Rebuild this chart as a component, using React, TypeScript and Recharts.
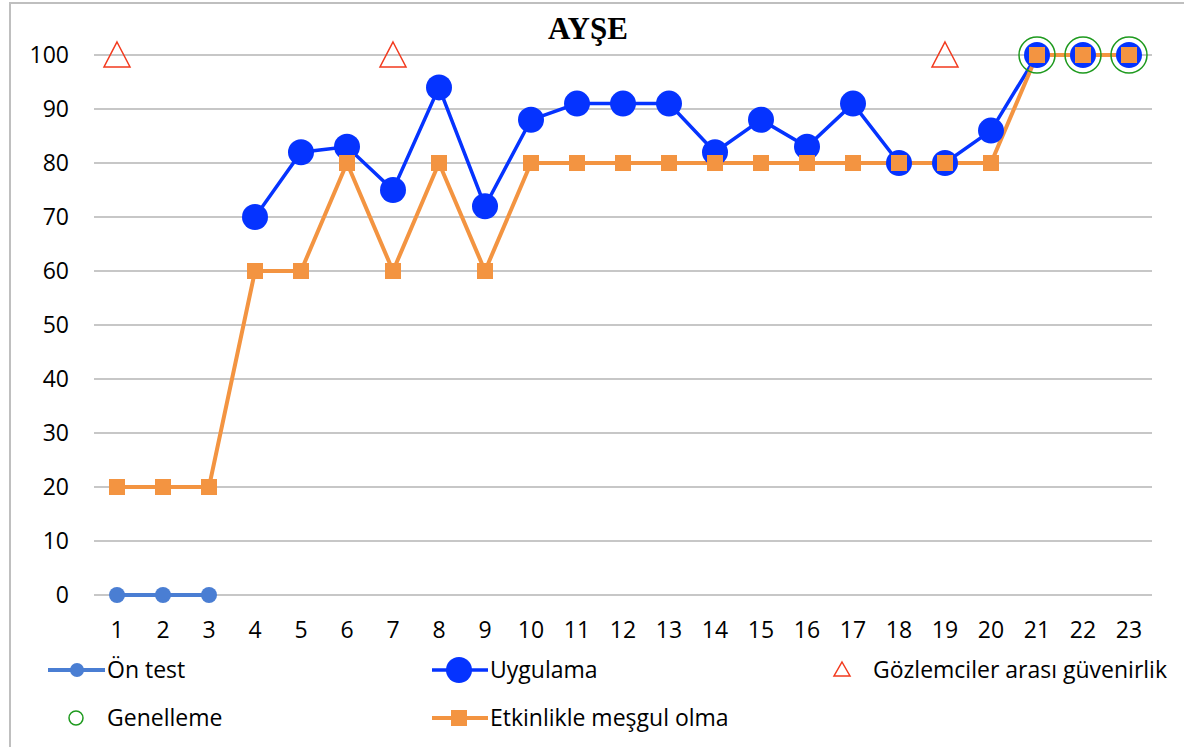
import React from "react";
import { LineChart, Line, XAxis, YAxis, CartesianGrid } from "recharts";

// sessions on the x axis
const sessions = [
  "1", "2", "3", "4", "5", "6", "7", "8", "9", "10", "11", "12",
  "13", "14", "15", "16", "17", "18", "19", "20", "21", "22", "23",
];

const onTest = [0, 0, 0, null, null, null, null, null, null, null, null, null,
  null, null, null, null, null, null, null, null, null, null, null];

const uygulama = [null, null, null, 70, 82, 83, 75, 94, 72, 88, 91, 91,
  91, 82, 88, 83, 91, 80, 80, 86, 100, 100, 100];

const gozlemciler = [100, null, null, null, null, null, 100, null, null, null, null, null,
  null, null, null, null, null, null, 100, null, null, null, null];

const genelleme = [null, null, null, null, null, null, null, null, null, null, null, null,
  null, null, null, null, null, null, null, null, 100, 100, 100];

const etkinlik = [20, 20, 20, 60, 60, 80, 60, 80, 60, 80, 80, 80,
  80, 80, 80, 80, 80, 80, 80, 80, 100, 100, 100];

const yTicks = [0, 10, 20, 30, 40, 50, 60, 70, 80, 90, 100];

const BLUE = "#0533FF";
const LIGHT_BLUE = "#4A7ED3";
const ORANGE = "#F39441";
const RED = "#F23A1E";
const GREEN = "#1E9A1E";
const FONT = "'Open Sans', 'Noto Sans', sans-serif";

const data = sessions.map((s, i) => ({
  name: s,
  onTest: onTest[i],
  uygulama: uygulama[i],
  gozlem: gozlemciler[i],
  genel: genelleme[i],
  etkin: etkinlik[i],
}));

const hasPoint = (p: any) =>
  p && p.value != null && typeof p.cx === "number" && typeof p.cy === "number" && !isNaN(p.cy);

const TriangleDot = (p: any) => {
  if (!hasPoint(p)) return <g key={`t-${p.index}`} />;
  const { cx, cy } = p;
  return (
    <path
      key={`t-${p.index}`}
      d={`M${cx},${cy - 13} L${cx + 13},${cy + 12} L${cx - 13},${cy + 12} Z`}
      fill="none"
      stroke={RED}
      strokeWidth={1.5}
    />
  );
};

const RingDot = (p: any) => {
  if (!hasPoint(p)) return <g key={`g-${p.index}`} />;
  return (
    <circle key={`g-${p.index}`} cx={p.cx} cy={p.cy} r={18} fill="none" stroke={GREEN} strokeWidth={1.5} />
  );
};

const CircleDot = (r: number, color: string, tag: string) => (p: any) => {
  if (!hasPoint(p)) return <g key={`${tag}-${p.index}`} />;
  return <circle key={`${tag}-${p.index}`} cx={p.cx} cy={p.cy} r={r} fill={color} stroke="none" />;
};

const SquareDot = (p: any) => {
  if (!hasPoint(p)) return <g key={`s-${p.index}`} />;
  return <rect key={`s-${p.index}`} x={p.cx - 8} y={p.cy - 8} width={16} height={16} fill={ORANGE} />;
};

const legendText: React.CSSProperties = {
  position: "absolute",
  fontFamily: FONT,
  fontSize: 23,
  color: "#000",
  lineHeight: "26px",
  whiteSpace: "nowrap",
};

const LegendMarker = ({ left, top, children }: { left: number; top: number; children: React.ReactNode }) => (
  <svg style={{ position: "absolute", left, top }} width={60} height={30}>
    {children}
  </svg>
);

export default function App() {
  return (
    <div style={{ position: "absolute", left: 0, top: 0, width: 1184, height: 747, background: "#fff", overflow: "hidden" }}>
      <div
        style={{
          position: "absolute",
          left: 9,
          top: 2,
          width: 1200,
          height: 800,
          border: "2px solid #BFBFBF",
        }}
      />
      <div
        style={{
          position: "absolute",
          left: 0,
          width: 1184,
          top: 10,
          textAlign: "center",
          fontFamily: "'Liberation Serif', 'Times New Roman', serif",
          fontWeight: "bold",
          fontSize: 31,
          lineHeight: "38px",
          paddingRight: 8,
          boxSizing: "border-box",
        }}
      >
        AYŞE
      </div>
      <div style={{ position: "absolute", left: 0, top: 0 }}>
        <LineChart width={1184} height={747} data={data} margin={{ top: 55, right: 32, bottom: 122, left: 0 }}>
          <CartesianGrid vertical={false} stroke="#B4B4B4" strokeWidth={1.5} />
          <XAxis
            dataKey="name"
            axisLine={false}
            tickLine={false}
            height={30}
            interval={0}
            padding={{ left: 23, right: 23 }}
            tick={{ fontSize: 23, fill: "#000", fontFamily: FONT }}
            dy={19}
          />
          <YAxis
            domain={[0, 100]}
            ticks={yTicks}
            axisLine={false}
            tickLine={false}
            width={94}
            interval={0}
            tick={{ fontSize: 23, fill: "#000", fontFamily: FONT }}
            dx={-17}
          />
          <Line
            dataKey="onTest"
            stroke={LIGHT_BLUE}
            strokeWidth={4}
            dot={CircleDot(8, LIGHT_BLUE, "o")}
            activeDot={false}
            isAnimationActive={false}
          />
          <Line
            dataKey="uygulama"
            stroke={BLUE}
            strokeWidth={3.5}
            dot={CircleDot(13, BLUE, "u")}
            activeDot={false}
            isAnimationActive={false}
          />
          <Line dataKey="gozlem" stroke="none" dot={TriangleDot} activeDot={false} isAnimationActive={false} />
          <Line dataKey="genel" stroke="none" dot={RingDot} activeDot={false} isAnimationActive={false} />
          <Line
            dataKey="etkin"
            stroke={ORANGE}
            strokeWidth={4}
            dot={SquareDot}
            activeDot={false}
            isAnimationActive={false}
          />
        </LineChart>
      </div>

      {/* legend */}
      <LegendMarker left={47} top={655}>
        <line x1={1} y1={15} x2={58} y2={15} stroke={LIGHT_BLUE} strokeWidth={4} />
        <circle cx={30} cy={15} r={7} fill={LIGHT_BLUE} />
      </LegendMarker>
      <div style={{ ...legendText, left: 107, top: 656 }}>Ön test</div>

      <LegendMarker left={430} top={655}>
        <line x1={2} y1={15} x2={58} y2={15} stroke={BLUE} strokeWidth={3.5} />
        <circle cx={29} cy={15} r={13} fill={BLUE} />
      </LegendMarker>
      <div style={{ ...legendText, left: 490, top: 656 }}>Uygulama</div>

      <svg style={{ position: "absolute", left: 829, top: 655 }} width={30} height={30}>
        <path d="M13,7 L21,21 L5,21 Z" fill="none" stroke={RED} strokeWidth={1.5} />
      </svg>
      <div style={{ ...legendText, left: 873, top: 656 }}>Gözlemciler arası güvenirlik</div>

      <svg style={{ position: "absolute", left: 61, top: 703 }} width={30} height={30}>
        <circle cx={15} cy={15} r={7} fill="none" stroke={GREEN} strokeWidth={1.5} />
      </svg>
      <div style={{ ...legendText, left: 107, top: 704 }}>Genelleme</div>

      <LegendMarker left={430} top={703}>
        <line x1={2} y1={15} x2={58} y2={15} stroke={ORANGE} strokeWidth={4} />
        <rect x={21} y={7} width={16} height={16} fill={ORANGE} />
      </LegendMarker>
      <div style={{ ...legendText, left: 490, top: 704 }}>Etkinlikle meşgul olma</div>
    </div>
  );
}
